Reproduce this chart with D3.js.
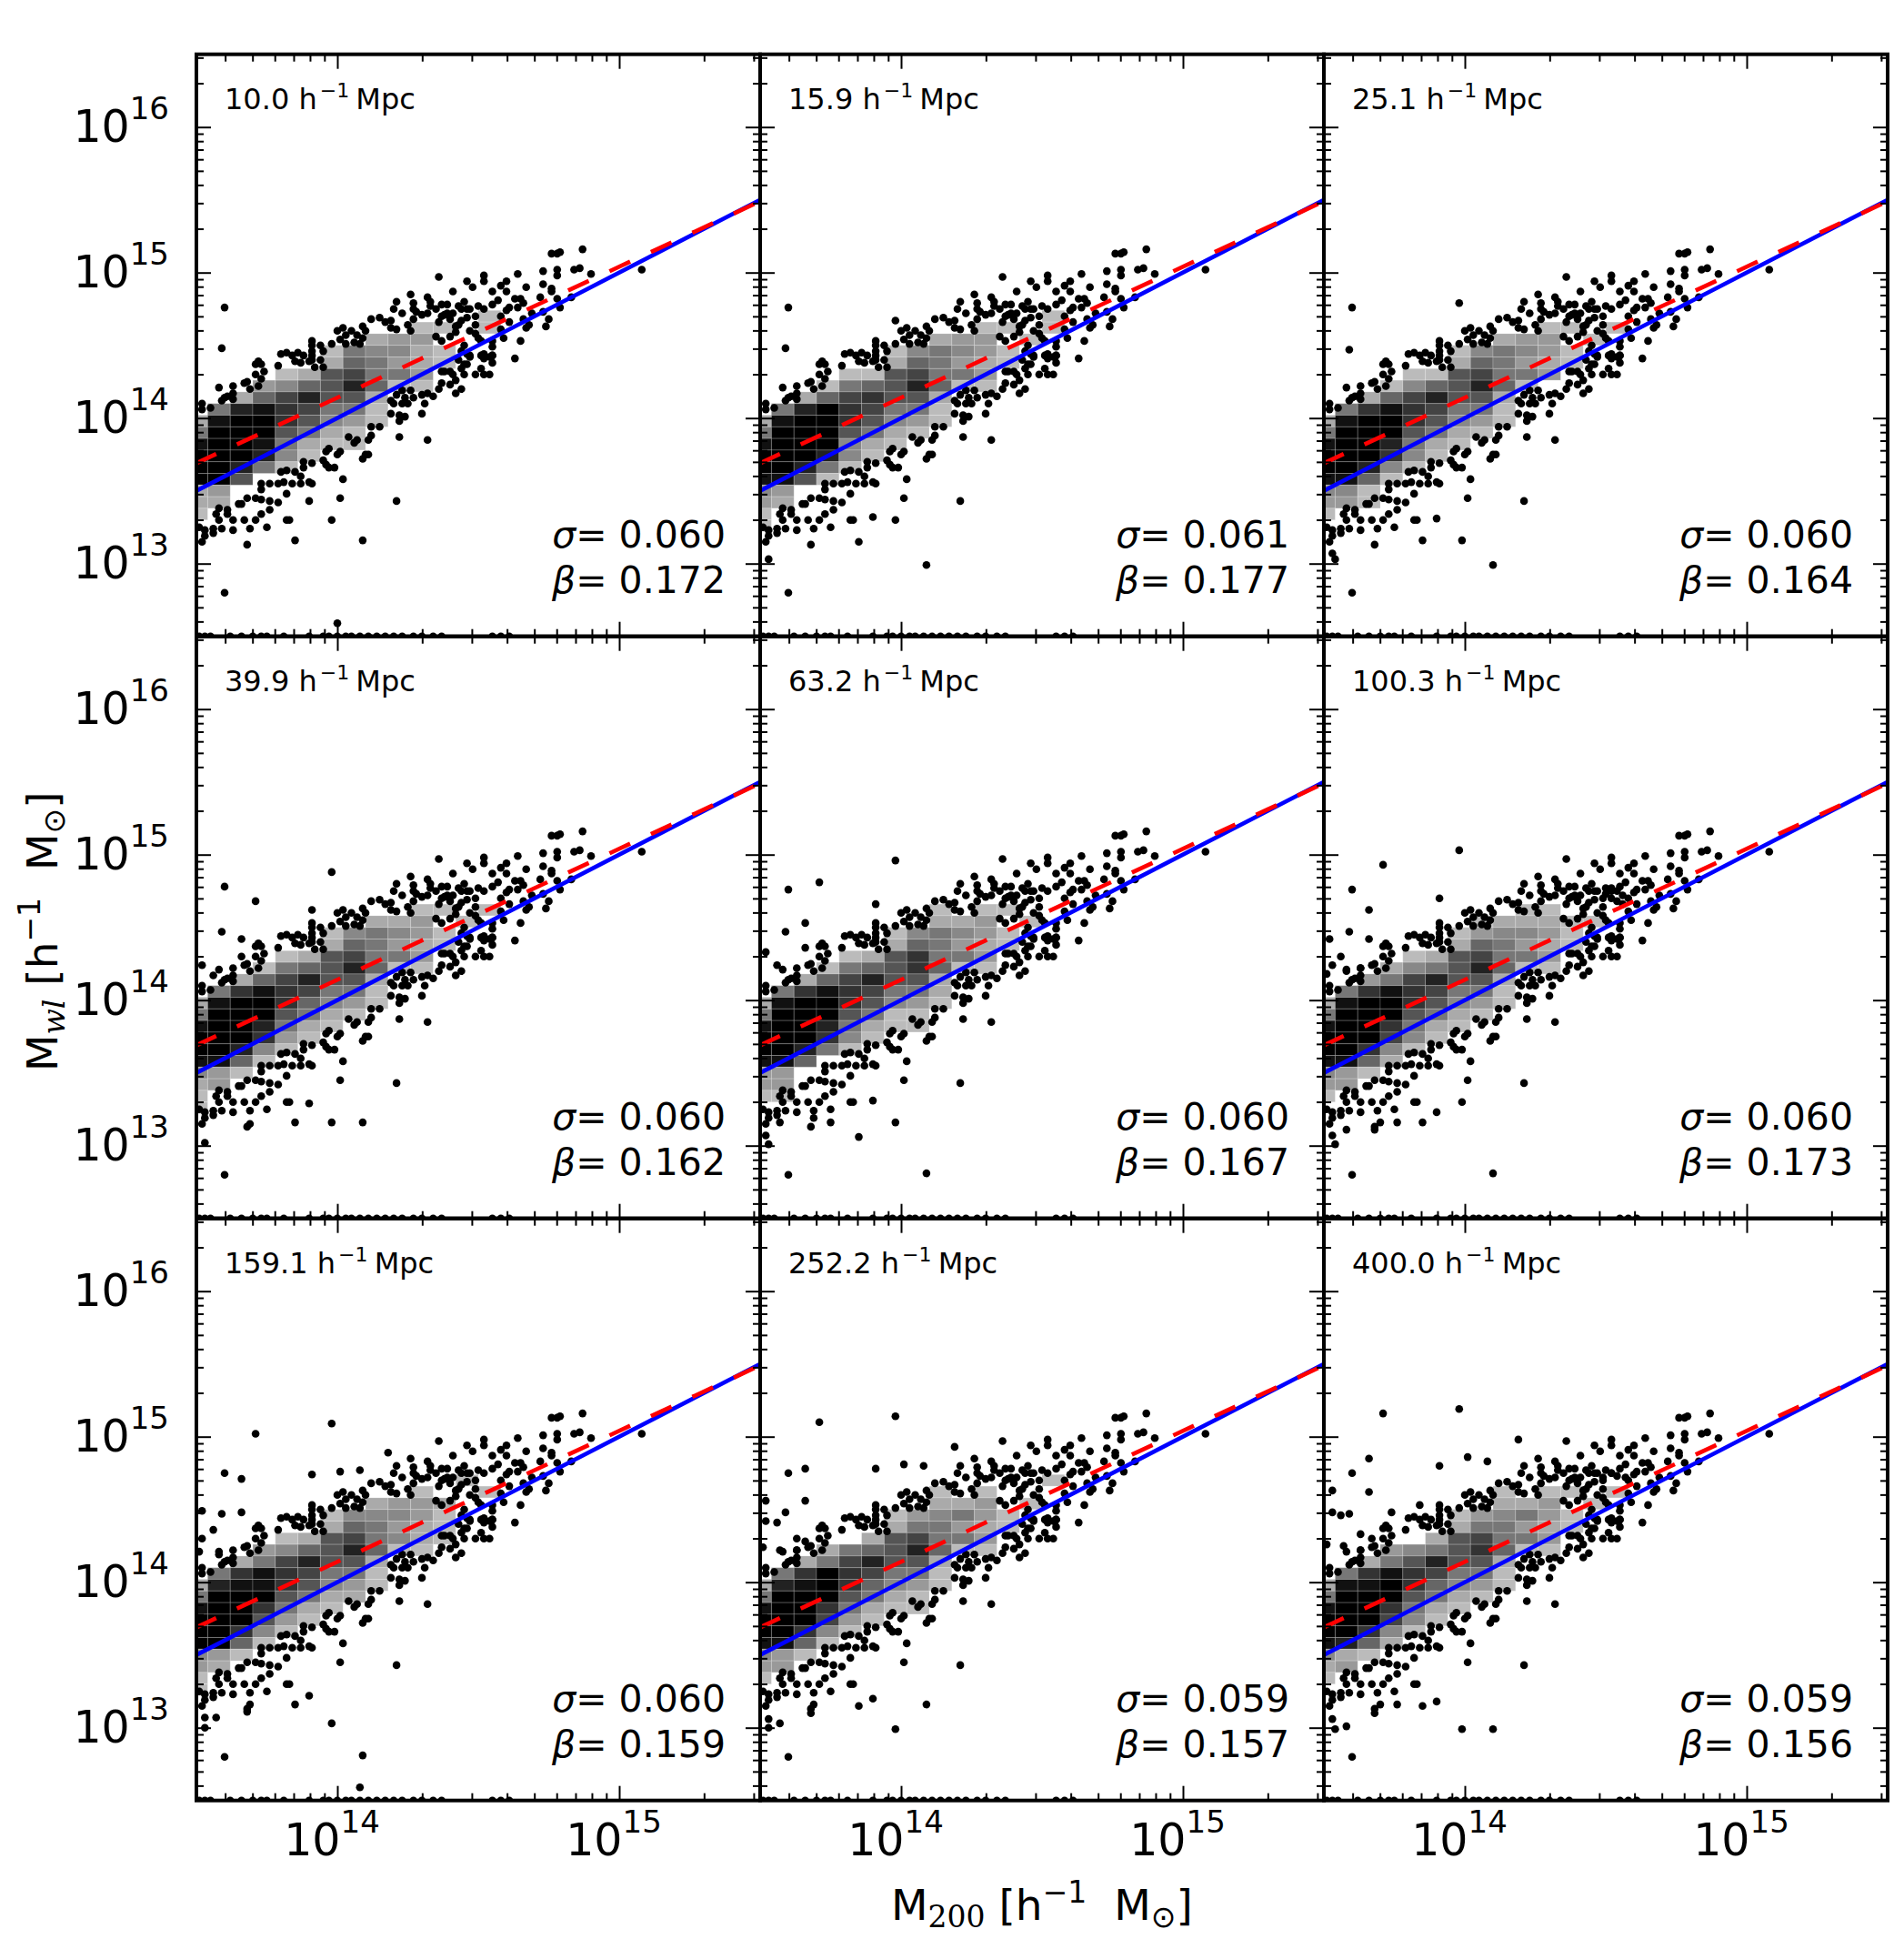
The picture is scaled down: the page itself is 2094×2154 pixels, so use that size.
<!DOCTYPE html>
<html><head><meta charset="utf-8">
<script src="https://cdnjs.cloudflare.com/ajax/libs/d3/7.8.5/d3.min.js"></script>
<style>html,body{margin:0;padding:0;background:#fff}svg{display:block}text{font-family:"DejaVu Sans";fill:#000}</style>
</head><body><script>
// All masses are log10(M) x 100.
// coreCloud was read from the 15.9 Mpc panel and is reused in all nine panels, since the clouds
// nearly coincide; extras1..9 hold each panel's own outliers. Individual dots are therefore approximate.
const radii=["10.0","15.9","25.1","39.9","63.2","100.3","159.1","252.2","400.0"];
const sigmas=["0.060","0.061","0.060","0.060","0.060","0.060","0.060","0.059","0.059"];
const betas=["0.172","0.177","0.164","0.162","0.167","0.173","0.159","0.157","0.156"];
const xMajor=[14,15], yMajor=[13,14,15,16];
const xTickExp=["14","15"], yTickExp=["13","14","15","16"];
const fitX=[1350,1550], blueY=[1350,1550], redY=[1369,1549];
const floorX=[1351,1353,1355,1362,1366,1370,1373,1375,1381,1390,1395,1397,1400,1403,1405,1408,1411,1414,1417,1420,1423,1427,1430,1434,1437,1455,1458,1461];
const floorY=1250;
const coreCloud=[[1476,1513],[1478,1513],[1479,1514],[1487,1516],[1473,1501],[1478,1502],[1478,1498],[1484,1502],[1486,1503],[1490,1499],[1508,1502],[1464,1499],[1473,1492],[1476,1489],[1476,1487],[1467,1490],[1460,1494],[1458,1491],[1460,1487],[1452,1498],[1452,1494],[1446,1494],[1448,1490],[1455,1487],[1436,1497],[1441,1487],[1426,1485],[1432,1483],[1433,1480],[1427,1479],[1421,1480],[1420,1475],[1423,1472],[1457,1481],[1463,1482],[1465,1482],[1466,1479],[1472,1483],[1478,1482],[1483,1483],[1479,1476],[1473,1473],[1475,1468],[1474,1463],[1469,1472],[1466,1468],[1468,1464],[1467,1462],[1465,1453],[1463,1441],[1461,1476],[1460,1474],[1464,1476],[1458,1470],[1461,1466],[1455,1478],[1452,1475],[1450,1477],[1447,1475],[1445,1480],[1443,1477],[1444,1475],[1446,1475],[1439,1478],[1437,1478],[1435,1475],[1433,1477],[1432,1472],[1430,1471],[1428,1473],[1427,1475],[1439,1472],[1437,1470],[1438,1471],[1441,1472],[1440,1468],[1436,1466],[1444,1467],[1446,1469],[1443,1464],[1449,1470],[1449,1464],[1447,1460],[1442,1463],[1442,1459],[1449,1458],[1450,1455],[1445,1450],[1440,1456],[1437,1453],[1435,1456],[1451,1453],[1455,1453],[1459,1455],[1458,1461],[1455,1449],[1455,1443],[1452,1444],[1451,1443],[1447,1443],[1446,1444],[1444,1446],[1454,1442],[1455,1443],[1455,1438],[1452,1441],[1447,1442],[1445,1437],[1443,1440],[1446,1437],[1444,1434],[1451,1434],[1445,1430],[1449,1430],[1452,1430],[1454,1430],[1441,1430],[1440,1432],[1438,1432],[1437,1432],[1442,1426],[1440,1423],[1437,1424],[1436,1420],[1444,1420],[1442,1417],
[1415,1469],[1412,1468],[1417,1466],[1419,1467],[1425,1464],[1426,1460],[1427,1468],[1419,1462],[1421,1461],[1409,1463],[1410,1460],[1407,1457],[1409,1455],[1405,1460],[1402,1462],[1400,1460],[1403,1457],[1401,1454],[1406,1452],[1408,1451],[1403,1451],[1398,1451],[1391,1453],[1391,1450],[1394,1450],[1395,1446],[1391,1446],[1391,1443],[1391,1440],[1390,1439],[1394,1440],[1395,1435],[1392,1435],[1386,1445],[1388,1443],[1385,1439],[1387,1438],[1384,1443],[1382,1445],[1380,1444],[1379,1436],[1372,1439],[1371,1437],[1373,1437],[1374,1432],[1371,1430],[1373,1427],[1368,1425],[1367,1424],[1372,1422],[1369,1420],[1363,1422],[1358,1421],[1363,1417],[1361,1415],[1360,1414],[1359,1412],[1363,1413],[1352,1410],[1355,1407],[1352,1406],
[1419,1412],[1420,1410],[1421,1416],[1423,1419],[1426,1419],[1424,1414],[1423,1410],[1425,1410],[1427,1414],[1430,1416],[1432,1417],[1434,1415],[1431,1410],[1430,1403],[1424,1401],[1422,1402],[1422,1398],[1419,1403],[1412,1394],[1415,1394],[1412,1388],[1411,1385],[1407,1385],[1404,1387],[1406,1383],[1422,1387],[1432,1385],[1401,1377],[1400,1375],[1397,1379],[1396,1377],[1410,1375],[1411,1375],[1409,1372],[1395,1371],[1391,1369],[1396,1368],[1397,1366],[1399,1366],[1388,1370],[1388,1366],[1385,1363],[1382,1364],[1380,1363],[1387,1360],[1390,1356],[1381,1356],[1384,1355],[1387,1355],[1391,1355],[1379,1355],[1376,1355],[1373,1355],[1373,1351],[1402,1358],[1401,1345],[1382,1348],[1421,1343],[1376,1343],[1379,1342],[1373,1344],[1371,1345],[1368,1345],[1366,1341],[1365,1341],[1358,1338],[1361,1337],[1357,1334],[1358,1330],[1361,1334],[1363,1330],[1367,1330],[1371,1330],[1373,1334],[1376,1337],[1382,1330],[1383,1330],[1375,1325],[1369,1324],[1363,1323],[1359,1324],[1356,1324],[1356,1321],[1353,1323],[1351,1325],[1353,1319],[1352,1315],[1368,1313],[1360,1280]];
const extras1=[[1360,1476],[1359,1448],[1400,1259],[1409,1316],[1390,1343],[1385,1316],[1398,1330]];
const extras2=[[1360,1476],[1359,1448],[1398,1467],[1409,1299],[1385,1315],[1398,1330],[1390,1332],[1353,1303]];
const extras3=[[1360,1476],[1359,1447],[1398,1479],[1410,1299],[1385,1316],[1399,1316],[1390,1331],[1353,1307],[1354,1303]];
const extras4=[[1360,1478],[1359,1447],[1371,1468],[1398,1488],[1391,1462],[1366,1442],[1366,1430],[1352,1424],[1356,1417],[1409,1316],[1398,1316],[1385,1316],[1390,1329],[1369,1315],[1353,1302]];
const extras5=[[1360,1476],[1371,1481],[1398,1496],[1391,1466],[1366,1453],[1359,1447],[1366,1436],[1352,1433],[1356,1424],[1409,1281],[1398,1316],[1385,1306],[1390,1331],[1375,1316],[1369,1319],[1357,1316],[1352,1307],[1353,1301]];
const extras6=[[1360,1476],[1371,1493],[1398,1503],[1391,1470],[1366,1462],[1359,1447],[1366,1442],[1352,1442],[1356,1430],[1353,1424],[1358,1420],[1363,1422],[1351,1418],[1410,1281],[1399,1330],[1385,1316],[1390,1323],[1376,1316],[1370,1316],[1358,1311],[1368,1311],[1353,1307],[1354,1301],[1452,1477],[1454,1475],[1456,1472],[1452,1470],[1454,1468],[1456,1466],[1450,1473]];
const extras7=[[1398,1509],[1371,1502],[1391,1474],[1360,1475],[1366,1471],[1418,1489],[1408,1477],[1401,1476],[1352,1449],[1359,1447],[1366,1448],[1352,1430],[1356,1436],[1351,1421],[1358,1419],[1398,1303],[1409,1281],[1408,1259],[1390,1322],[1385,1316],[1369,1316],[1368,1311],[1357,1307],[1353,1300],[1353,1307]];
const extras8=[[1371,1510],[1398,1514],[1360,1475],[1366,1478],[1391,1478],[1366,1456],[1419,1493],[1401,1481],[1408,1480],[1352,1456],[1359,1448],[1352,1442],[1356,1441],[1351,1424],[1357,1422],[1363,1430],[1366,1428],[1363,1422],[1398,1299],[1409,1316],[1385,1315],[1390,1320],[1369,1316],[1368,1310],[1357,1303],[1353,1306],[1353,1300]];
const extras9=[[1371,1516],[1398,1519],[1360,1475],[1366,1485],[1391,1480],[1419,1498],[1401,1486],[1408,1483],[1366,1462],[1353,1463],[1353,1448],[1356,1446],[1359,1447],[1384,1453],[1374,1448],[1367,1430],[1363,1433],[1357,1425],[1351,1426],[1363,1422],[1399,1299],[1410,1299],[1385,1315],[1390,1318],[1376,1316],[1370,1316],[1368,1310],[1358,1301],[1353,1306],[1354,1299],[1452,1475],[1454,1473],[1457,1472],[1449,1472]];
// 2-D histogram shade per cell (hex digit, 0 = black); rows run from high to low M_wl.
const binStart=1346, binWidth=8, binTop=1474;
const hist1=[".............b","..........bb.b","........a99...","......b788ab..","......a679ab..","....ba54779...","...986526bb...","..a64255a.....",".7213477b.....","a1003589b.....","700057ab......","10017abb......","00028b........","0027b.........","005...........","a9............","aa............","b.............",".............."];
const hist2=[".............b","..........bb.b","........a99.b.","......b8789b..","......a679ab..","....bb54779...","...b76526bb...","..a64355a.....",".7203477b.....","a1003589b.....","700057ab......","10008ab.......","00028b........","0027b.........","115b..........","89............","9a............","b.............","b............."];
const hist3=["..............","..........bb.b","........a99.b.","......b8789b..","......a679ab..","....bb54779...","...b86526b....","..a64255a.....",".7313477b.....","a1003589b.....","700057ab......","10027ab.......","00038b........","0028b.........","116b..........","88b...........","99b...........","b.............",".............."];
const hist4=["..............","..........bb.b","........aa9.b.","......b8789b..","......a679ab..","....ba54779...","...b76526bb...","..a64255a.....",".7313477b.....","a1003689b.....","700057ab......","10027ab.......","00039b........","0028b.........","116b..........","89b...........","a9............","b.............","b............."];
const hist5=["..............","........b.bb..","........aa9.b.","......b8789b..","......a679ab..","....ba53779...","...b76536bb...","..a64255a.....",".7313477a.....","a1003589b.....","700057bb......","10027abb......","00038b........","0027b.........","116...........","99............","99............","bb............",".............."];
const hist6=["..............",".........bb...",".......baaabb.","......b9889b..","......a679ab..","....ba54779...","...a87526bb...","..974255a.....",".7313477b.....","a1003589b.....","700057ab......","10037ab.......","00048b........","0038b.........","116a..........","89b...........","99............","b.............",".............."];
const hist7=["............b.","..........b..b","........a99a..","......b8889b..","......a679ab..","....ba5478ab..","...986526bb...","..a74255a.....",".7313477b.....","a2113589b.....","700057aa......","10037ab.......","00059b........","0038b.........","006b..........","89b...........","9a............","b.............","b............."];
const hist8=[".............b","........b.b...","........aa9.b.","......b9879b..","......a779ab..",".....a54779...","...a76526bb...","..a74255a.....",".7303477b.....","a2103689b.....","700057ab......","10037abb......","00049b........","0038b.........","116b..........","89b...........","99............","b.............",".............."];
const hist9=["..............","........b.bb.b","........aa9.b.","......b9879b..","......a779ab..",".....a54779...","...987536bb...","..a75255a.....",".7313477b.....","a1103689b.....","700057ab......","10037ab.......","00048b........","0038b.........","126a..........","8ab...........","a9............","b.............",".............."];
const hists=[hist1,hist2,hist3,hist4,hist5,hist6,hist7,hist8,hist9];
const extras=[extras1,extras2,extras3,extras4,extras5,extras6,extras7,extras8,extras9];

const W=2094,H=2154,L=216,T=59.7,PW=620,PH=640;
const m=v=>Math.pow(10,v/100);
const xS=d3.scaleLog().domain([m(1350),m(1550)]).range([0,PW]);
const yS=d3.scaleLog().domain([m(1250),m(1650)]).range([PH,0]);
const svg=d3.select("body").append("svg").attr("width",W).attr("height",H);
svg.append("rect").attr("width",W).attr("height",H).attr("fill","#fff");
const defs=svg.append("defs");
defs.append("clipPath").attr("id","pc").append("rect").attr("width",PW).attr("height",PH);

function minorTicks(lo,hi){const r=[];for(let d=Math.floor(lo);d<hi;d++)for(let k=2;k<10;k++){const v=k*Math.pow(10,d);if(v>=Math.pow(10,lo)&&v<=Math.pow(10,hi))r.push(v);}return r;}
const xMinor=minorTicks(13.5,15.5), yMinor=minorTicks(12.5,16.5);
const line=d3.line().x(d=>xS(m(d[0]))).y(d=>yS(m(d[1])));

function styleAxis(g,w){g.select(".domain").remove();g.selectAll("line").attr("stroke","#000").attr("stroke-width",w);g.selectAll("text").remove();}
function mathText(g,x,y,parts,anchor){
  const t=g.append("text").attr("x",x).attr("y",y).attr("text-anchor",anchor||"start").attr("xml:space","preserve");
  parts.forEach(p=>{const s=t.append("tspan").text(p.t).style("font-size",p.s+"px");
    if(p.dy)s.attr("dy",p.dy); if(p.dx)s.attr("dx",p.dx);
    if(p.i)s.style("font-style","italic"); if(p.f)s.style("font-family",p.f);});
  return t;
}

hists.forEach((hist,idx)=>{
  const col=idx%3,row=Math.floor(idx/3);
  const p=svg.append("g").attr("transform",`translate(${L+col*PW},${T+row*PH})`);
  const c=p.append("g").attr("clip-path","url(#pc)");
  const cells=[];
  hist.forEach((s,r)=>s.split("").forEach((ch,k)=>{if(ch!==".")cells.push({r,k,g:parseInt(ch,16)*17});}));
  c.append("g").selectAll("rect").data(cells).join("rect")
    .attr("x",d=>xS(m(binStart+d.k*binWidth)))
    .attr("width",d=>xS(m(binStart+(d.k+1)*binWidth))-xS(m(binStart+d.k*binWidth)))
    .attr("y",d=>yS(m(binTop-d.r*binWidth)))
    .attr("height",d=>yS(m(binTop-(d.r+1)*binWidth))-yS(m(binTop-d.r*binWidth)))
    .attr("fill",d=>`rgb(${d.g},${d.g},${d.g})`)
    .attr("stroke","#fff").attr("stroke-opacity",.2).attr("stroke-width",1);
  const pts=coreCloud.concat(extras[idx]);
  c.append("g").selectAll("circle").data(pts).join("circle")
    .attr("cx",d=>xS(m(d[0]))).attr("cy",d=>yS(m(d[1]))).attr("r",4.3).attr("fill","#000");
  c.append("g").selectAll("circle").data(floorX).join("circle")
    .attr("cx",d=>xS(m(d))).attr("cy",yS(m(floorY))).attr("r",4.3).attr("fill","#000");
  c.append("path").attr("d",line(fitX.map((v,i)=>[v,blueY[i]]))).attr("fill","none").attr("stroke","#0000ff").attr("stroke-width",4.6);
  c.append("path").attr("d",line(fitX.map((v,i)=>[v,redY[i]]))).attr("fill","none").attr("stroke","#ff0000").attr("stroke-width",4.6)
    .attr("stroke-dasharray","25 25.2").attr("stroke-dashoffset",1);

  const xM=xMajor.map(e=>Math.pow(10,e)), yM=yMajor.map(e=>Math.pow(10,e));
  const ax=[
    [d3.axisBottom(xS).tickValues(xMinor).tickSize(-8),0,PH,2],[d3.axisBottom(xS).tickValues(xM).tickSize(-16),0,PH,2],
    [d3.axisTop(xS).tickValues(xMinor).tickSize(-8),0,0,2],[d3.axisTop(xS).tickValues(xM).tickSize(-16),0,0,2],
    [d3.axisLeft(yS).tickValues(yMinor).tickSize(-8),0,0,2],[d3.axisLeft(yS).tickValues(yM).tickSize(-16),0,0,2],
    [d3.axisRight(yS).tickValues(yMinor).tickSize(-8),PW,0,2],[d3.axisRight(yS).tickValues(yM).tickSize(-16),PW,0,2]];
  ax.forEach(a=>{p.append("g").attr("transform",`translate(${a[1]},${a[2]})`).call(a[0].tickFormat("")).call(g=>styleAxis(g,a[3]));});
  p.append("rect").attr("width",PW).attr("height",PH).attr("fill","none").attr("stroke","#000").attr("stroke-width",4);

  mathText(p,31,60.7,[{t:radii[idx]+" h",s:32},{t:"−1",s:22,dy:-13,dx:3},{t:" Mpc",s:32,dy:13,dx:-3}]);
  mathText(p,582,542,[{t:"σ",s:41,i:1},{t:"= "+sigmas[idx],s:41}],"end");
  mathText(p,582,592,[{t:"β",s:41,i:1},{t:"= "+betas[idx],s:41}],"end");

  if(col===0) yMajor.forEach((e,i)=>mathText(p,-30,yS(Math.pow(10,e))+16.5,[{t:"10",s:49},{t:yTickExp[i],s:34,dy:-25}],"end"));
  if(row===2) xMajor.forEach((e,i)=>mathText(p,xS(Math.pow(10,e))-6,PH+60,[{t:"10",s:49},{t:xTickExp[i],s:34,dy:-25}],"middle"));
});

mathText(svg,980,2111,[{t:"M",s:47},{t:"200",s:33,dy:8,f:"DejaVu Serif"},{t:" [h",s:47,dy:-8},{t:"−1",s:33,dy:-19},{t:"  M",s:47,dy:19},{t:"⊙",s:33,dy:8},{t:"]",s:47,dy:-8}]);
const yl=svg.append("g").attr("transform","translate(63,1178) rotate(-90)");
mathText(yl,0,0,[{t:"M",s:47},{t:"wl",s:33,dy:8,i:1,f:"DejaVu Serif"},{t:" [h",s:47,dy:-8},{t:"−1",s:33,dy:-19},{t:"  M",s:47,dy:19},{t:"⊙",s:33,dy:8},{t:"]",s:47,dy:-8}]);
</script></body></html>
